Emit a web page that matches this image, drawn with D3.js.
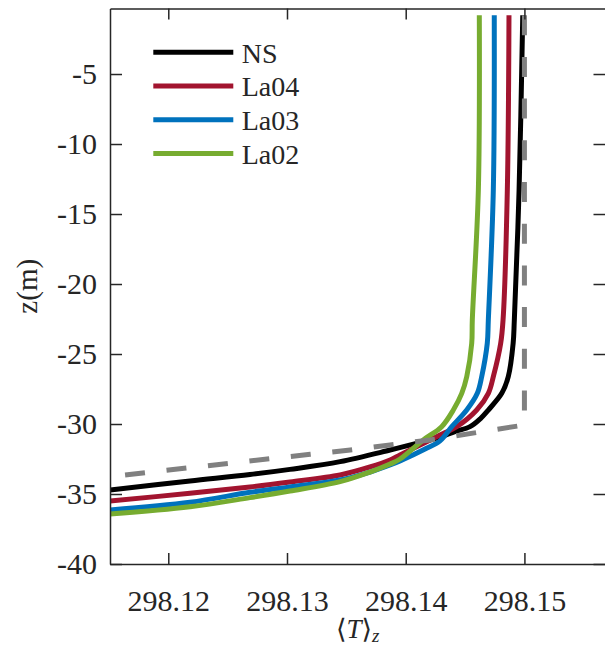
<!DOCTYPE html>
<html>
<head>
<meta charset="utf-8">
<script src="https://cdn.jsdelivr.net/npm/d3@7"></script>
<style>
  body { margin: 0; background: #fff; }
  svg text { font-family: "Liberation Serif", "Tinos", "Times New Roman", "DejaVu Serif", serif !important; fill: #262626; }
</style>
</head>
<body>
<div id="chart"></div>
<script>
// profiles as [z (m), <T>_z]
var seriesNames = ["NS", "La04", "La03", "La02"];
var seriesColors = ["#000000", "#A2142F", "#0072BD", "#77AC30"];

var ns = [[-0.8, 298.14986], [-13.29, 298.14955], [-22.57, 298.14915], [-24.24, 298.14905],
  [-26.62, 298.14864], [-27.81, 298.14809], [-29.0, 298.14696], [-29.61, 298.14630],
  [-30.19, 298.14542], [-30.54, 298.14415], [-30.93, 298.14289], [-31.26, 298.14146],
  [-31.86, 298.13868], [-32.69, 298.13447], [-33.24, 298.13025], [-33.61, 298.12688],
  [-34.07, 298.12183], [-34.71, 298.11509]];
var la04 = [[-0.8, 298.14870], [-13.29, 298.14856], [-22.57, 298.14820], [-24.24, 298.14800],
  [-26.62, 298.14738], [-27.81, 298.14696], [-29.0, 298.14598], [-30.19, 298.14430],
  [-30.79, 298.14289], [-31.26, 298.14177], [-32.21, 298.13952], [-32.57, 298.13868],
  [-33.07, 298.13699], [-33.64, 298.13447], [-34.14, 298.13025], [-34.5, 298.12688],
  [-34.95, 298.12183], [-35.5, 298.11509]];
var la03 = [[-0.8, 298.14746], [-13.29, 298.14738], [-22.57, 298.14696], [-24.24, 298.14687],
  [-26.62, 298.14640], [-27.81, 298.14603], [-29.0, 298.14514], [-30.19, 298.14388],
  [-31.21, 298.14289], [-31.79, 298.14163], [-32.64, 298.13952], [-32.93, 298.13868],
  [-33.43, 298.13699], [-34.0, 298.13447], [-34.5, 298.13025], [-34.88, 298.12688],
  [-35.59, 298.12183], [-36.14, 298.11509]];
var la02 = [[-0.8, 298.14620], [-13.29, 298.14612], [-22.57, 298.14561], [-24.24, 298.14556],
  [-26.62, 298.14514], [-27.81, 298.14472], [-29.0, 298.14401], [-30.19, 298.14303],
  [-31.14, 298.14148], [-32.5, 298.13952], [-32.86, 298.13868], [-33.43, 298.13699],
  [-34.12, 298.13447], [-34.79, 298.13025], [-35.26, 298.12688], [-35.91, 298.12183],
  [-36.43, 298.11509]];
// initial profile (dashed)
var initial = [[-0.8, 298.15], [-30.07, 298.15], [-31.14, 298.14205], [-31.5, 298.13868],
  [-31.86, 298.13533], [-32.16, 298.13196], [-33.76, 298.11509]];

var xTicks = [298.12, 298.13, 298.14, 298.15];
var yTicks = [-40, -35, -30, -25, -20, -15, -10, -5];

var W = 605, H = 650;
var margin = {top: 8.5, right: -0.5, bottom: 86, left: 110},
  width = W - margin.left - margin.right,
  height = H - margin.top - margin.bottom;

var svg = d3.select("#chart").append("svg")
  .attr("width", W)
  .attr("height", H)
  .append("g")
  .attr("transform", "translate(" + margin.left + "," + margin.top + ")");

var x = d3.scaleLinear().domain([298.11509, 298.15683]).range([0, width]);
var y = d3.scaleLinear().domain([-40, -0.32]).range([height, 0]);

svg.append("clipPath").attr("id", "clip")
  .append("rect").attr("width", width).attr("height", height);

var line = d3.line()
  .x(function(d) { return x(d[1]); })
  .y(function(d) { return y(d[0]); })
  .curve(d3.curveCatmullRom.alpha(0.5));

var plot = svg.append("g").attr("clip-path", "url(#clip)");
[ns, la04, la03, la02].forEach(function(s, i) {
  plot.append("path")
    .datum(s)
    .attr("fill", "none")
    .attr("stroke", seriesColors[i])
    .attr("stroke-width", 5)
    .attr("d", line);
});
plot.append("path")
  .datum(initial)
  .attr("fill", "none")
  .attr("stroke", "#808080")
  .attr("stroke-width", 5)
  .attr("stroke-dasharray", "20,21.7")
  .attr("d", line.curve(d3.curveLinear));

// axes (ticks inside, box all round)
function styleAxis(g) {
  g.attr("font-family", null);
  g.selectAll("path, line").attr("stroke", "#262626").attr("stroke-width", 1.5);
  g.selectAll("text").attr("font-size", 30).attr("fill", "#262626");
}
svg.append("g")
  .attr("transform", "translate(0," + height + ")")
  .call(d3.axisBottom(x).tickValues(xTicks).tickSizeInner(-11).tickSizeOuter(0).tickPadding(26)
    .tickFormat(d3.format(".2f")))
  .call(styleAxis);
svg.append("g")
  .call(d3.axisTop(x).tickValues(xTicks).tickSizeInner(-11).tickSizeOuter(0).tickFormat(""))
  .call(styleAxis);
svg.append("g")
  .call(d3.axisLeft(y).tickValues(yTicks).tickSizeInner(-12).tickSizeOuter(0).tickPadding(13)
    .tickFormat(function(d) { return String(d).replace("\u2212", "-"); }))
  .call(styleAxis);
svg.append("g")
  .attr("transform", "translate(" + width + ",0)")
  .call(d3.axisRight(y).tickValues(yTicks).tickSizeInner(-12).tickSizeOuter(0).tickFormat(""))
  .call(styleAxis);

// axis labels
var xl = svg.append("text")
  .attr("x", width / 2)
  .attr("y", height + 74)
  .attr("text-anchor", "middle")
  .attr("font-size", 27);
xl.append("tspan").text("\u27E8");
xl.append("tspan").attr("font-style", "italic").text("T");
xl.append("tspan").text("\u27E9");
xl.append("tspan").attr("font-style", "italic").attr("font-size", 19).attr("dy", 4).text("z");

svg.append("text")
  .attr("transform", "translate(" + (27 - margin.left) + "," + (height / 2) + ") rotate(-90)")
  .attr("text-anchor", "middle")
  .attr("dy", "0.35em")
  .attr("font-size", 29)
  .text("z(m)");

// legend
var legend = svg.append("g").attr("transform", "translate(" + (153.3 - margin.left) + "," + (52.3 - margin.top) + ")");
seriesNames.forEach(function(name, i) {
  var row = legend.append("g").attr("transform", "translate(0," + (i * 33.7) + ")");
  row.append("line")
    .attr("x1", 0).attr("x2", 80)
    .attr("stroke", seriesColors[i])
    .attr("stroke-width", 5);
  row.append("text")
    .attr("x", 88.4)
    .attr("dy", "0.37em")
    .attr("font-size", 28)
    .text(name);
});
</script>
</body>
</html>
